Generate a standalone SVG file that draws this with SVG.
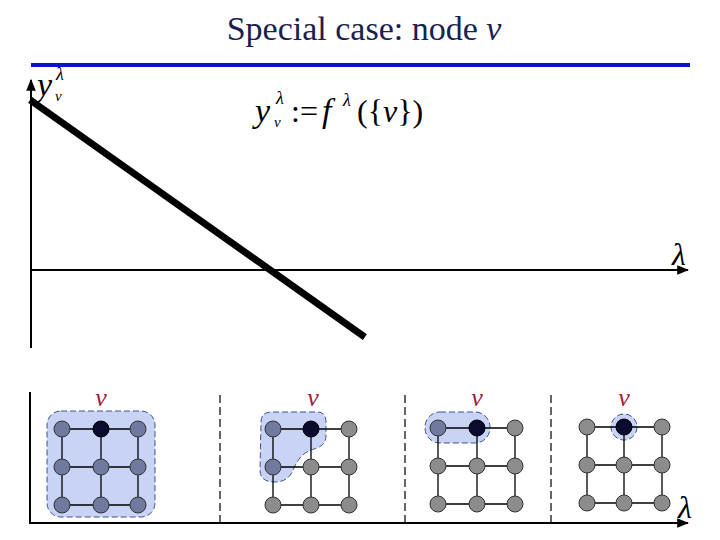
<svg xmlns="http://www.w3.org/2000/svg" width="720" height="540" viewBox="0 0 720 540">
<style>
.t{font-family:"Liberation Serif","Times New Roman",Tinos,"DejaVu Serif",serif}
.i{font-style:italic}
.ax{stroke:#000;stroke-width:2;fill:none}
.e{stroke:#000;stroke-width:1.3}
.n{fill:#8c8c8c;stroke:#333;stroke-width:1}
.s{fill:#6f7a9e;stroke:#333;stroke-width:1}
.d{fill:#0b0b30;stroke:#000;stroke-width:1}
.h{fill:#c9d3f5;stroke:#3f5488;stroke-width:1;stroke-dasharray:6 3}
.sep{stroke:#000;stroke-width:1.2;stroke-dasharray:8 4}
.vl{font-family:"Liberation Serif","Times New Roman",Tinos,"DejaVu Serif",serif;font-style:italic;font-size:26px;fill:#a0203c;text-anchor:middle}
</style>
<defs>
<marker id="ar2" viewBox="0 0 10 10" refX="9" refY="5" markerWidth="12" markerHeight="12" orient="auto" markerUnits="userSpaceOnUse">
<path d="M0,1 L10,5 L0,9 Z" fill="#000"/>
</marker>
</defs>
<rect width="720" height="540" fill="#fff"/>
<g id="title">
<text class="t" x="364" y="40" font-size="34" fill="#1a2150" text-anchor="middle">Special case: node <tspan class="i">v</tspan></text>
<rect x="31" y="63" width="659" height="4" fill="#0a14c8"/>
</g>
<g id="connectors">
<line class="ax" x1="31" y1="348" x2="31" y2="80" marker-end="url(#ar2)"/>
<line class="ax" x1="31" y1="270" x2="688" y2="270" marker-end="url(#ar2)"/>
<line x1="33" y1="102" x2="362" y2="335" stroke="#000" stroke-width="7" stroke-linecap="square"/>
<line class="ax" x1="30" y1="392" x2="30" y2="523"/>
<line class="ax" x1="29" y1="523" x2="688" y2="523" marker-end="url(#ar2)"/>
<line class="sep" x1="220" y1="395" x2="220" y2="522"/>
<line class="sep" x1="405" y1="395" x2="405" y2="522"/>
<line class="sep" x1="551" y1="395" x2="551" y2="522"/>
</g>
<g id="labels" class="t">
<text class="i" x="37" y="96" font-size="34">y</text>
<text class="i" x="56" y="80" font-size="18">λ</text>
<text class="i" x="55" y="101" font-size="15">v</text>
<text class="i" x="255" y="122" font-size="34">y</text>
<text class="i" x="276" y="104" font-size="18">λ</text>
<text class="i" x="274" y="127" font-size="15">v</text>
<text x="291" y="122" font-size="32">:=</text>
<text class="i" x="322" y="122" font-size="34">f</text>
<text class="i" x="343" y="106" font-size="18">λ</text>
<text x="357" y="122" font-size="32">({<tspan class="i">v</tspan>})</text>
<text class="i" x="672" y="265" font-size="32">λ</text>
<text class="i" x="678" y="518" font-size="32">λ</text>
</g>
<g id="panel1">
<rect class="h" x="47" y="411" width="108" height="106" rx="14"/>
<path class="e" d="M62,429H138M62,467H138M62,505H138M62,429V505M101,429V505M138,429V505"/>
<circle class="s" cx="62" cy="429" r="8"/><circle class="d" cx="101" cy="429" r="8"/><circle class="s" cx="138" cy="429" r="8"/>
<circle class="s" cx="62" cy="467" r="8"/><circle class="s" cx="101" cy="467" r="8"/><circle class="s" cx="138" cy="467" r="8"/>
<circle class="s" cx="62" cy="505" r="8"/><circle class="s" cx="101" cy="505" r="8"/><circle class="s" cx="138" cy="505" r="8"/>
<text class="vl" x="101" y="406">v</text>
</g>
<g id="panel2">
<path class="h" d="M261,422Q261,412 272,412L317,412Q326,412 326,422L326,436Q326,446 314,449Q300,453 294,468Q289,482 275,482Q260,482 260,470Z"/>
<path class="e" d="M273,429H349M273,467H349M273,505H349M273,429V505M311,429V505M349,429V505"/>
<circle class="s" cx="273" cy="429" r="8"/><circle class="d" cx="311" cy="429" r="8"/><circle class="n" cx="349" cy="429" r="8"/>
<circle class="s" cx="273" cy="467" r="8"/><circle class="n" cx="311" cy="467" r="8"/><circle class="n" cx="349" cy="467" r="8"/>
<circle class="n" cx="273" cy="505" r="8"/><circle class="n" cx="311" cy="505" r="8"/><circle class="n" cx="349" cy="505" r="8"/>
<text class="vl" x="313" y="406">v</text>
</g>
<g id="panel3">
<rect class="h" x="425" y="412" width="65" height="31" rx="15"/>
<path class="e" d="M438,428H515M438,466H515M438,504H515M438,428V504M477,428V504M515,428V504"/>
<circle class="s" cx="438" cy="428" r="8"/><circle class="d" cx="477" cy="428" r="8"/><circle class="n" cx="515" cy="428" r="8"/>
<circle class="n" cx="438" cy="466" r="8"/><circle class="n" cx="477" cy="466" r="8"/><circle class="n" cx="515" cy="466" r="8"/>
<circle class="n" cx="438" cy="504" r="8"/><circle class="n" cx="477" cy="504" r="8"/><circle class="n" cx="515" cy="504" r="8"/>
<text class="vl" x="477" y="406">v</text>
</g>
<g id="panel4">
<circle class="h" cx="624" cy="427" r="13" stroke-dasharray="none" stroke="#9aa8d8"/>
<path class="e" d="M587,427H662M587,465H662M587,503H662M587,427V503M624,427V503M662,427V503"/>
<circle class="n" cx="587" cy="427" r="8"/><circle class="d" cx="624" cy="427" r="8"/><circle class="n" cx="662" cy="427" r="8"/>
<circle class="n" cx="587" cy="465" r="8"/><circle class="n" cx="624" cy="465" r="8"/><circle class="n" cx="662" cy="465" r="8"/>
<circle class="n" cx="587" cy="503" r="8"/><circle class="n" cx="624" cy="503" r="8"/><circle class="n" cx="662" cy="503" r="8"/>
<text class="vl" x="624" y="406">v</text>
</g>
</svg>
